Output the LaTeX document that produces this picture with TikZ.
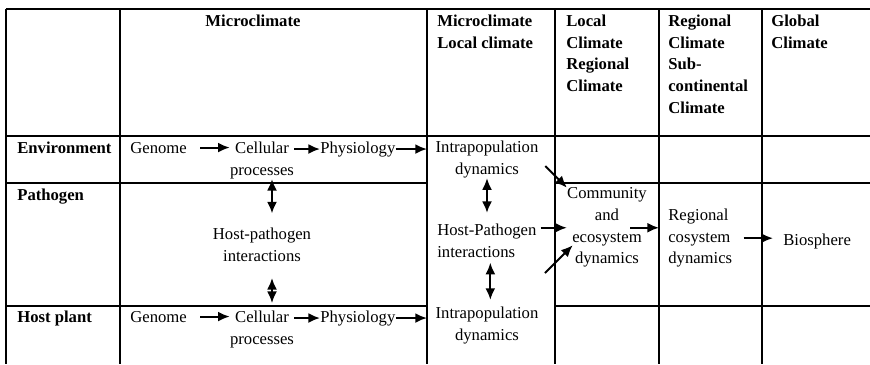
\documentclass[tikz,border=0pt]{standalone}
\usepackage{fontspec}
\setmainfont{Liberation Serif}
\usetikzlibrary{arrows.meta,positioning}

\tikzset{
  rule/.style={line width=0.7pt},
  txt/.style={inner sep=0pt, font=\fontsize{10}{13}\selectfont},
  hd/.style={inner sep=0pt, font=\fontsize{10}{13}\selectfont\bfseries, align=left, anchor=north west},
  rowhd/.style={hd, anchor=base west},
  stack/.style={txt, align=center, anchor=north},
  flow/.style={line width=1.2pt, -{Latex[length=7pt,width=6pt]}},
  both/.style={line width=1.2pt, {Latex[length=7pt,width=6pt]}-{Latex[length=7pt,width=6pt]}}
}

\begin{document}
\begin{tikzpicture}[x=0.6pt, y=-0.6pt]
      %\draw[help lines] (0,0) grid (870,364);
      \useasboundingbox (0,0) rectangle (870,364);

      \foreach \x in {6,120,427,555,659,762}
        \draw[rule] (\x,9) -- (\x,364);
      \draw[rule] (6,9) -- (870,9);
      \draw[rule] (6,136) -- (870,136);
      \foreach \y in {183,306} {
        \draw[rule] (6,\y) -- (427,\y);
        \draw[rule] (555,\y) -- (870,\y);
      }

      \node[hd, anchor=north] (hMicro) at (253,14.6) {Microclimate};
      \node[hd] (hLocal) at (437,14.6) {Microclimate\\Local climate};
      \node[hd] (hRegional) at (566,14.6) {Local\\Climate\\Regional\\Climate};
      \node[hd] (hSubcont) at (668,14.6) {Regional\\Climate\\Sub-\\continental\\Climate};
      \node[hd] (hGlobal) at (771,14.6) {Global\\Climate};

      \node[rowhd] (env) at (17,153) {Environment};
      \node[rowhd] (pathogen) at (17,200) {Pathogen};
      \node[rowhd] (host) at (17,322) {Host plant};

      \node[txt, anchor=base west] (genomeE) at (130,153) {Genome};
      \node[stack] (cellE) at (262,141.6) {Cellular\\processes};
      \node[txt, anchor=base west] (physE) at (320,153) {Physiology};
      \node[stack] (intraE) at (487,140.6) {Intrapopulation\\dynamics};

      \node[stack] (hostpath) at (262,227.6) {Host-pathogen\\interactions};
      \node[txt, align=left, anchor=north west] (hpInter) at (437,223.6) {Host-Pathogen\\interactions};

      \node[txt, anchor=base west] (genomeH) at (130,322) {Genome};
      \node[stack] (cellH) at (262,310.6) {Cellular\\processes};
      \node[txt, anchor=base west] (physH) at (320,322) {Physiology};
      \node[stack] (intraH) at (487,306.6) {Intrapopulation\\dynamics};

      \node[stack] (comm) at (607,187.6) {Community\\and\\ecosystem\\dynamics};
      \node[txt, align=left, anchor=north west] (regeco) at (668,208.6) {Regional\\cosystem\\dynamics};
      \node[txt, anchor=base west] (bio) at (783,245) {Biosphere};

      \draw[flow, shorten <=8pt] (genomeE.east) -- (genomeE.east -| cellE.west);
      \draw[flow] (physE.west -| cellE.east) -- (physE.west);
      \draw[flow, shorten >=5pt] (physE.east) -- (physE.east -| intraE.west);
      \draw[flow, shorten <=8pt] (genomeH.east) -- (genomeH.east -| cellH.west);
      \draw[flow] (physH.west -| cellH.east) -- (physH.west);
      \draw[flow, shorten >=5pt] (physH.east) -- (physH.east -| intraH.west);

      \draw[both, shorten >=8.5pt] ([xshift=6pt]cellE.south) -- ([xshift=6pt]hostpath.north);
      \draw[both, shorten <=9.8pt, shorten >=4.5pt] ([xshift=6pt]hostpath.south) -- ([xshift=6pt]cellH.north);

      \draw[both, shorten >=6.4pt] (intraE.south) -- (intraE.south |- hpInter.north);
      \draw[both, shorten <=3pt, shorten >=4pt] ([xshift=2pt]intraH.north |- hpInter.south) -- ([xshift=2pt]intraH.north);

      \coordinate (lowStart) at (545,273);
      \draw[flow, shorten <=5.6pt] (intraE.east) -- (comm.north west);
      \draw[flow, shorten <=2.4pt] (hpInter.east |- comm.west) -- (comm.west);
      \draw[flow] (lowStart) -- ([xshift=3.5pt,yshift=13.6pt]comm.south west);
      \draw[flow, shorten >=5.4pt] ([xshift=-10pt]comm.east) -- (comm.east -| regeco.west);
      \draw[flow, shorten <=6.7pt, shorten >=6pt] (regeco.east) -- (regeco.east -| bio.west);
\end{tikzpicture}
\end{document}
